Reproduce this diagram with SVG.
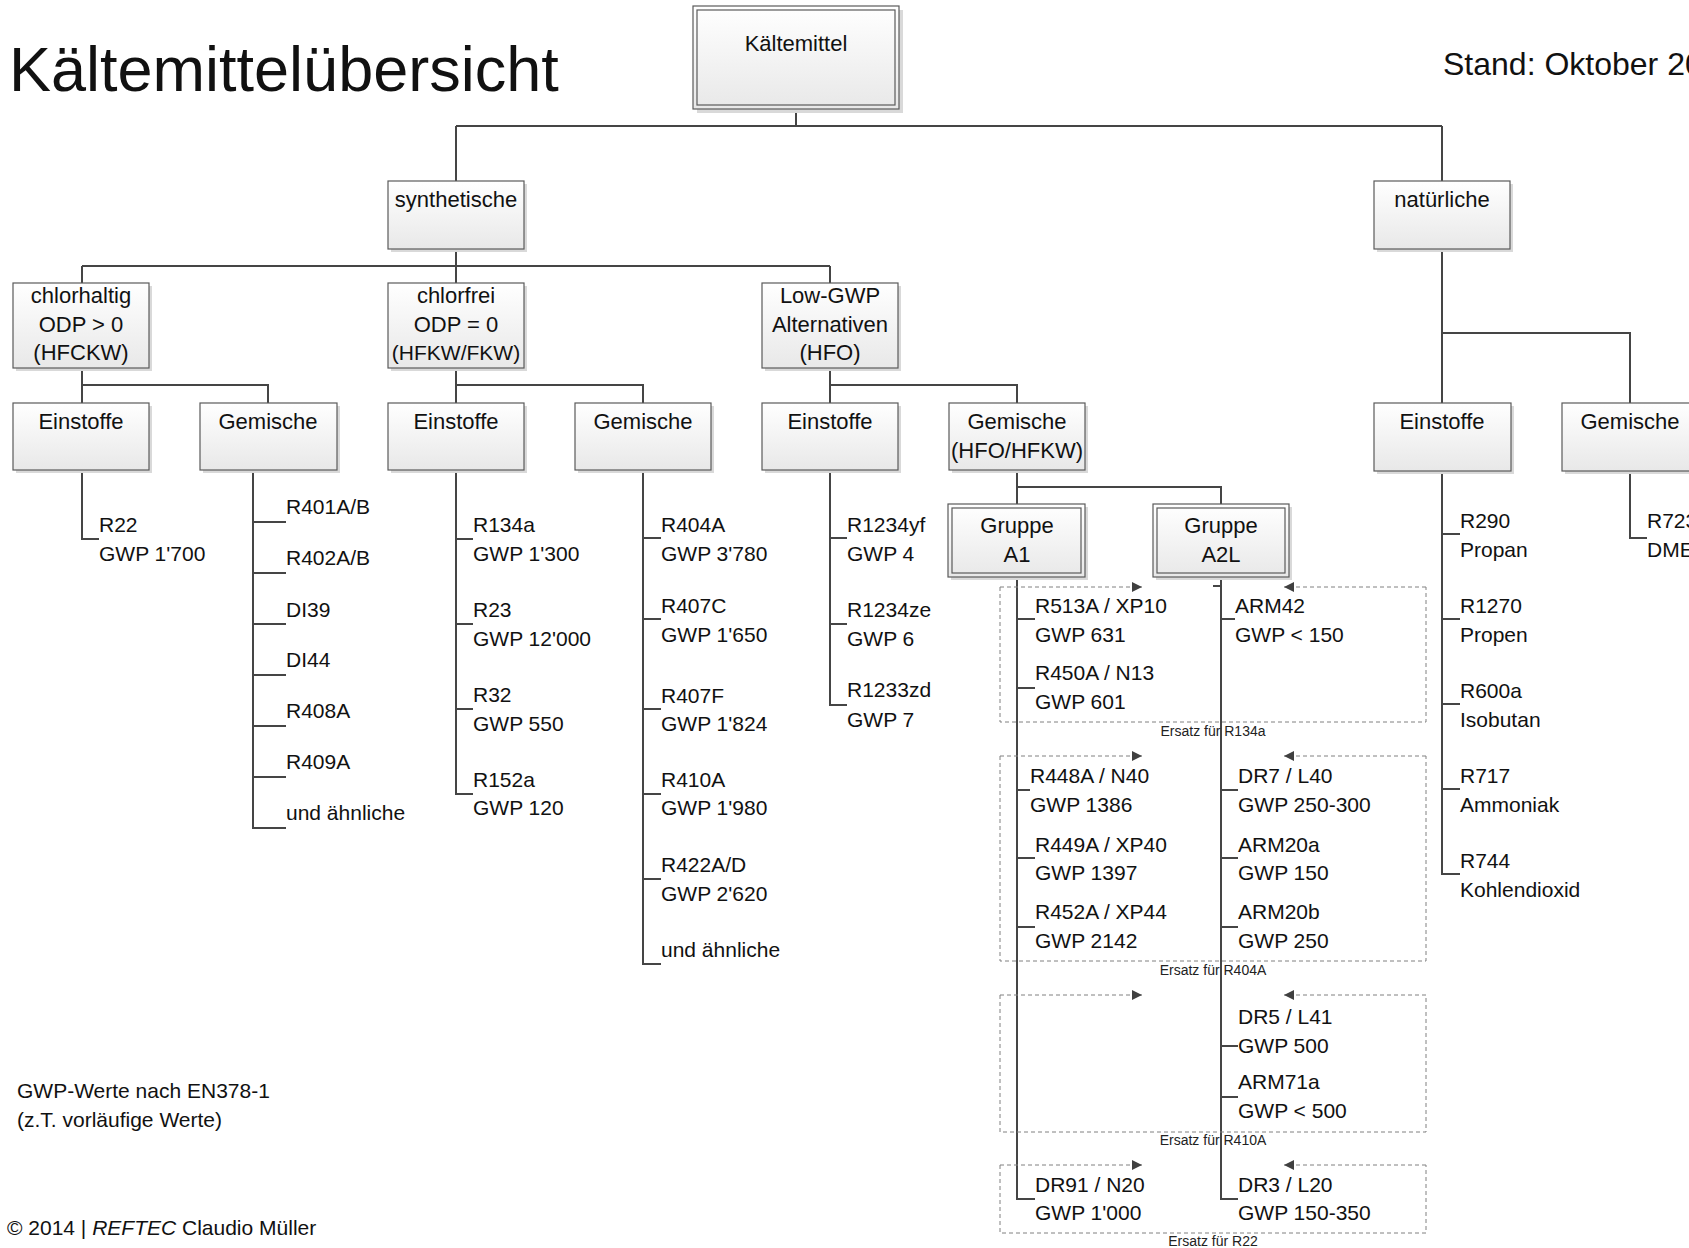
<svg xmlns="http://www.w3.org/2000/svg" width="1689" height="1248" viewBox="0 0 1689 1248">
<defs>
<linearGradient id="bg" x1="0" y1="0" x2="0" y2="1">
<stop offset="0" stop-color="#ffffff"/>
<stop offset="1" stop-color="#e8e8e8"/>
</linearGradient>
<marker id="ah" viewBox="0 0 10 10" refX="10" refY="5" markerWidth="10" markerHeight="10" orient="auto" markerUnits="userSpaceOnUse">
<path d="M0,0 L10,5 L0,10 z" fill="#404040"/>
</marker>
</defs>
<style>
text{font-family:"Liberation Sans",Arial,sans-serif;fill:#111;}
.nl{font-size:22px;text-anchor:middle;}
.it{font-size:21px;}
.sm{font-size:14px;text-anchor:middle;fill:#222;}
.box{fill:url(#bg);stroke:#5a5a5a;stroke-width:1.2;}
.inner{fill:none;stroke:#5a5a5a;stroke-width:1.2;}
.sh{fill:#d9d9d9;}
.con{fill:none;stroke:#454545;stroke-width:2;}
.dash{fill:none;stroke:#808080;stroke-width:1;stroke-dasharray:4 3;}
.arr{fill:none;stroke:#808080;stroke-width:1;stroke-dasharray:4 3;}
</style>
<rect width="1689" height="1248" fill="#ffffff"/>

<!-- Header texts -->
<text x="9" y="91" style="font-size:63px">Kältemittelübersicht</text>
<text x="1443" y="75" style="font-size:32px">Stand: Oktober 20</text>

<!-- Connectors -->
<g id="connectors">
<path class="con" d="M796,109 V126 M456,126 H1442 M456,126 V181 M1442,126 V181"/>
<path class="con" d="M456,249 V266 M82,266 H830 M82,266 V283 M456,266 V283 M830,266 V283"/>
<path class="con" d="M82,368 V385 H268 V403 M82,385 V403"/>
<path class="con" d="M456,368 V385 H643 V403 M456,385 V403"/>
<path class="con" d="M830,368 V385 H1017 V403 M830,385 V403"/>
<path class="con" d="M1442,249 V403 M1442,333 H1630 V403"/>
<!-- chlorhaltig Einstoffe -->
<path class="con" d="M82,470 V539 H99"/>
<!-- chlorhaltig Gemische -->
<path class="con" d="M268,470 H253 V828 H286 M253,522 H286 M253,573 H286 M253,624 H286 M253,675 H286 M253,726 H286 M253,777 H286"/>
<!-- chlorfrei Einstoffe -->
<path class="con" d="M456,470 V794 H473 M456,539 H473 M456,624 H473 M456,709 H473"/>
<!-- chlorfrei Gemische -->
<path class="con" d="M643,470 V964 H661 M643,538 H661 M643,619 H661 M643,709 H661 M643,794 H661 M643,879 H661"/>
<!-- Low-GWP Einstoffe -->
<path class="con" d="M830,470 V705 H847 M830,538 H847 M830,624 H847"/>
<!-- Gemische HFO/HFKW to Gruppen -->
<path class="con" d="M1017,470 V504 M1017,487 H1221 V504"/>
<!-- Gruppe A1 -->
<path class="con" d="M1017,577 V1199 H1035 M1017,619 H1035 M1017,688 H1035 M1017,790 H1030 M1017,858 H1035 M1017,927 H1035"/>
<!-- Gruppe A2L -->
<path class="con" d="M1221,577 V1199 H1238 M1213,586 H1221 M1221,619 H1235 M1221,790 H1238 M1221,858 H1238 M1221,927 H1238 M1221,1046 H1238 M1221,1097 H1238"/>
<!-- natuerliche Einstoffe -->
<path class="con" d="M1442,471 V874 H1460 M1442,534 H1460 M1442,619 H1460 M1442,704 H1460 M1442,789 H1460"/>
<!-- natuerliche Gemische -->
<path class="con" d="M1630,471 V538 H1647"/>
</g>

<!-- Nodes -->
<g id="n-kaeltemittel">
<rect class="sh" x="697" y="10" width="206" height="103"/>
<rect class="box" x="693" y="6" width="206" height="103"/>
<rect class="inner" x="697" y="10" width="198" height="95"/>
<text class="nl" x="796" y="51">Kältemittel</text>
</g>
<g id="n-synthetische">
<rect class="sh" x="391" y="184" width="136" height="68"/>
<rect class="box" x="388" y="181" width="136" height="68"/>
<text class="nl" x="456" y="207">synthetische</text>
</g>
<g id="n-natuerliche">
<rect class="sh" x="1377" y="184" width="136" height="68"/>
<rect class="box" x="1374" y="181" width="136" height="68"/>
<text class="nl" x="1442" y="207">natürliche</text>
</g>
<g id="n-chlorhaltig">
<rect class="sh" x="16" y="286" width="136" height="85"/>
<rect class="box" x="13" y="283" width="136" height="85"/>
<text class="nl" x="81" y="303">chlorhaltig</text>
<text class="nl" x="81" y="332">ODP &gt; 0</text>
<text class="nl" x="81" y="360">(HFCKW)</text>
</g>
<g id="n-chlorfrei">
<rect class="sh" x="391" y="286" width="136" height="85"/>
<rect class="box" x="388" y="283" width="136" height="85"/>
<text class="nl" x="456" y="303">chlorfrei</text>
<text class="nl" x="456" y="332">ODP = 0</text>
<text class="nl" x="456" y="360" style="font-size:21px">(HFKW/FKW)</text>
</g>
<g id="n-lowgwp">
<rect class="sh" x="765" y="286" width="136" height="85"/>
<rect class="box" x="762" y="283" width="136" height="85"/>
<text class="nl" x="830" y="303">Low-GWP</text>
<text class="nl" x="830" y="332">Alternativen</text>
<text class="nl" x="830" y="360">(HFO)</text>
</g>
<g id="n-einstoffe-chlorhaltig">
<rect class="sh" x="16" y="406" width="136" height="67"/>
<rect class="box" x="13" y="403" width="136" height="67"/>
<text class="nl" x="81" y="429">Einstoffe</text>
</g>
<g id="n-gemische-chlorhaltig">
<rect class="sh" x="203" y="406" width="137" height="67"/>
<rect class="box" x="200" y="403" width="137" height="67"/>
<text class="nl" x="268" y="429">Gemische</text>
</g>
<g id="n-einstoffe-chlorfrei">
<rect class="sh" x="391" y="406" width="136" height="67"/>
<rect class="box" x="388" y="403" width="136" height="67"/>
<text class="nl" x="456" y="429">Einstoffe</text>
</g>
<g id="n-gemische-chlorfrei">
<rect class="sh" x="578" y="406" width="136" height="67"/>
<rect class="box" x="575" y="403" width="136" height="67"/>
<text class="nl" x="643" y="429">Gemische</text>
</g>
<g id="n-einstoffe-hfo">
<rect class="sh" x="765" y="406" width="136" height="67"/>
<rect class="box" x="762" y="403" width="136" height="67"/>
<text class="nl" x="830" y="429">Einstoffe</text>
</g>
<g id="n-gemische-hfo">
<rect class="sh" x="952" y="406" width="136" height="67"/>
<rect class="box" x="949" y="403" width="136" height="67"/>
<text class="nl" x="1017" y="429">Gemische</text>
<text class="nl" x="1017" y="458">(HFO/HFKW)</text>
</g>
<g id="n-einstoffe-natuerlich">
<rect class="sh" x="1377" y="406" width="137" height="68"/>
<rect class="box" x="1374" y="403" width="137" height="68"/>
<text class="nl" x="1442" y="429">Einstoffe</text>
</g>
<g id="n-gemische-natuerlich">
<rect class="sh" x="1565" y="406" width="136" height="68"/>
<rect class="box" x="1562" y="403" width="136" height="68"/>
<text class="nl" x="1630" y="429">Gemische</text>
</g>
<g id="n-gruppe-a1">
<rect class="sh" x="951" y="507" width="137" height="73"/>
<rect class="box" x="948" y="504" width="137" height="73"/>
<rect class="inner" x="952" y="508" width="129" height="65"/>
<text class="nl" x="1017" y="533">Gruppe</text>
<text class="nl" x="1017" y="562">A1</text>
</g>
<g id="n-gruppe-a2l">
<rect class="sh" x="1156" y="507" width="136" height="73"/>
<rect class="box" x="1153" y="504" width="136" height="73"/>
<rect class="inner" x="1157" y="508" width="128" height="65"/>
<text class="nl" x="1221" y="533">Gruppe</text>
<text class="nl" x="1221" y="562">A2L</text>
</g>

<!-- Replacement groups (dashed frames) -->
<g id="ersatz-frames">
<path class="dash" d="M1000,587 V722 H1426 V587"/>
<line class="arr" x1="1000" y1="587" x2="1142" y2="587" marker-end="url(#ah)"/>
<line class="arr" x1="1426" y1="587" x2="1284" y2="587" marker-end="url(#ah)"/>
<text class="sm" x="1213" y="736">Ersatz für R134a</text>

<path class="dash" d="M1000,756 V961 H1426 V756"/>
<line class="arr" x1="1000" y1="756" x2="1142" y2="756" marker-end="url(#ah)"/>
<line class="arr" x1="1426" y1="756" x2="1284" y2="756" marker-end="url(#ah)"/>
<text class="sm" x="1213" y="975">Ersatz für R404A</text>

<path class="dash" d="M1000,995 V1132 H1426 V995"/>
<line class="arr" x1="1000" y1="995" x2="1142" y2="995" marker-end="url(#ah)"/>
<line class="arr" x1="1426" y1="995" x2="1284" y2="995" marker-end="url(#ah)"/>
<text class="sm" x="1213" y="1145">Ersatz für R410A</text>

<path class="dash" d="M1000,1165 V1233 H1426 V1165"/>
<line class="arr" x1="1000" y1="1165" x2="1142" y2="1165" marker-end="url(#ah)"/>
<line class="arr" x1="1426" y1="1165" x2="1284" y2="1165" marker-end="url(#ah)"/>
<text class="sm" x="1213" y="1246">Ersatz für R22</text>
</g>

<!-- List items -->
<g id="list-chlorhaltig-einstoffe" class="it">
<text class="it" x="99" y="532">R22</text>
<text class="it" x="99" y="561">GWP 1'700</text>
</g>
<g id="list-chlorhaltig-gemische">
<text class="it" x="286" y="514">R401A/B</text>
<text class="it" x="286" y="565">R402A/B</text>
<text class="it" x="286" y="617">DI39</text>
<text class="it" x="286" y="667">DI44</text>
<text class="it" x="286" y="718">R408A</text>
<text class="it" x="286" y="769">R409A</text>
<text class="it" x="286" y="820">und ähnliche</text>
</g>
<g id="list-chlorfrei-einstoffe">
<text class="it" x="473" y="532">R134a</text>
<text class="it" x="473" y="561">GWP 1'300</text>
<text class="it" x="473" y="617">R23</text>
<text class="it" x="473" y="646">GWP 12'000</text>
<text class="it" x="473" y="702">R32</text>
<text class="it" x="473" y="731">GWP 550</text>
<text class="it" x="473" y="787">R152a</text>
<text class="it" x="473" y="815">GWP 120</text>
</g>
<g id="list-chlorfrei-gemische">
<text class="it" x="661" y="532">R404A</text>
<text class="it" x="661" y="561">GWP 3'780</text>
<text class="it" x="661" y="613">R407C</text>
<text class="it" x="661" y="642">GWP 1'650</text>
<text class="it" x="661" y="703">R407F</text>
<text class="it" x="661" y="731">GWP 1'824</text>
<text class="it" x="661" y="787">R410A</text>
<text class="it" x="661" y="815">GWP 1'980</text>
<text class="it" x="661" y="872">R422A/D</text>
<text class="it" x="661" y="901">GWP 2'620</text>
<text class="it" x="661" y="957">und ähnliche</text>
</g>
<g id="list-hfo-einstoffe">
<text class="it" x="847" y="532">R1234yf</text>
<text class="it" x="847" y="561">GWP 4</text>
<text class="it" x="847" y="617">R1234ze</text>
<text class="it" x="847" y="646">GWP 6</text>
<text class="it" x="847" y="697">R1233zd</text>
<text class="it" x="847" y="727">GWP 7</text>
</g>
<g id="list-a1">
<text class="it" x="1035" y="613">R513A / XP10</text>
<text class="it" x="1035" y="642">GWP 631</text>
<text class="it" x="1035" y="680">R450A / N13</text>
<text class="it" x="1035" y="709">GWP 601</text>
<text class="it" x="1030" y="783">R448A / N40</text>
<text class="it" x="1030" y="812">GWP 1386</text>
<text class="it" x="1035" y="852">R449A / XP40</text>
<text class="it" x="1035" y="880">GWP 1397</text>
<text class="it" x="1035" y="919">R452A / XP44</text>
<text class="it" x="1035" y="948">GWP 2142</text>
<text class="it" x="1035" y="1192">DR91 / N20</text>
<text class="it" x="1035" y="1220">GWP 1'000</text>
</g>
<g id="list-a2l">
<text class="it" x="1235" y="613">ARM42</text>
<text class="it" x="1235" y="642">GWP &lt; 150</text>
<text class="it" x="1238" y="783">DR7 / L40</text>
<text class="it" x="1238" y="812">GWP 250-300</text>
<text class="it" x="1238" y="852">ARM20a</text>
<text class="it" x="1238" y="880">GWP 150</text>
<text class="it" x="1238" y="919">ARM20b</text>
<text class="it" x="1238" y="948">GWP 250</text>
<text class="it" x="1238" y="1024">DR5 / L41</text>
<text class="it" x="1238" y="1053">GWP 500</text>
<text class="it" x="1238" y="1089">ARM71a</text>
<text class="it" x="1238" y="1118">GWP &lt; 500</text>
<text class="it" x="1238" y="1192">DR3 / L20</text>
<text class="it" x="1238" y="1220">GWP 150-350</text>
</g>
<g id="list-natuerlich-einstoffe">
<text class="it" x="1460" y="528">R290</text>
<text class="it" x="1460" y="557">Propan</text>
<text class="it" x="1460" y="613">R1270</text>
<text class="it" x="1460" y="642">Propen</text>
<text class="it" x="1460" y="698">R600a</text>
<text class="it" x="1460" y="727">Isobutan</text>
<text class="it" x="1460" y="783">R717</text>
<text class="it" x="1460" y="812">Ammoniak</text>
<text class="it" x="1460" y="868">R744</text>
<text class="it" x="1460" y="897">Kohlendioxid</text>
</g>
<g id="list-natuerlich-gemische">
<text class="it" x="1647" y="528">R723</text>
<text class="it" x="1647" y="557">DME</text>
</g>

<!-- Footer notes -->
<text class="it" x="17" y="1098">GWP-Werte nach EN378-1</text>
<text class="it" x="17" y="1127">(z.T. vorläufige Werte)</text>
<text x="7" y="1235" style="font-size:21px">© 2014 | <tspan font-style="italic">REFTEC</tspan> Claudio Müller</text>
</svg>
